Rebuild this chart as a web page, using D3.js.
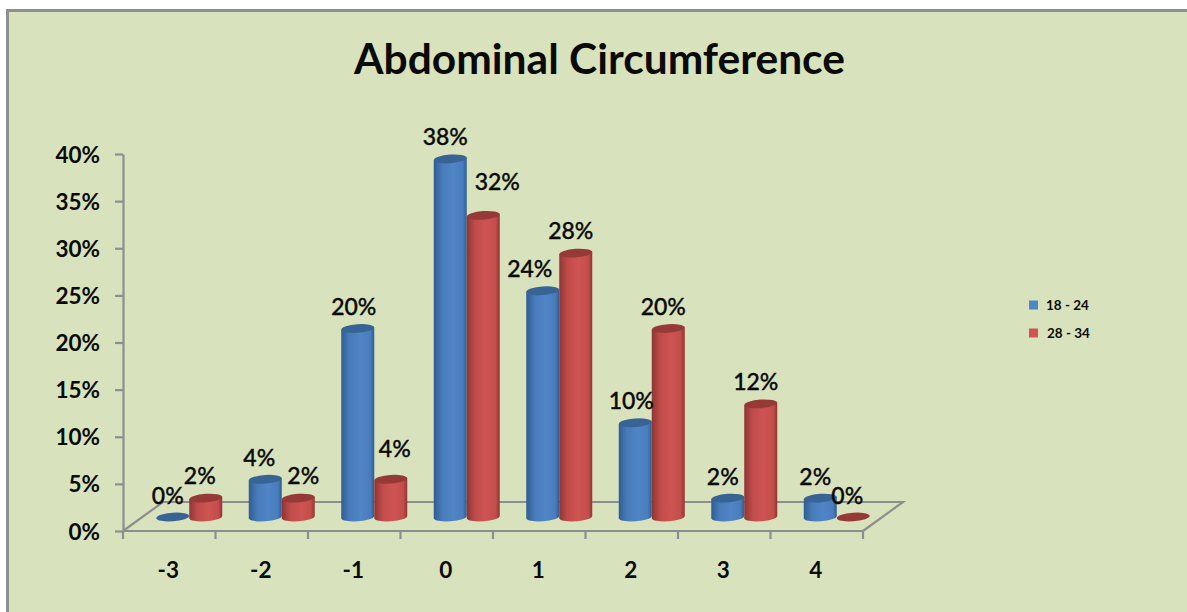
<!DOCTYPE html>
<html>
<head>
<meta charset="utf-8">
<script src="https://cdn.jsdelivr.net/npm/d3@7"></script>
<style>
  html, body { margin: 0; padding: 0; background: #fff; }
  svg { display: block; }
  text { font-family: Lato, "Open Sans", sans-serif; fill: #0a0a0a; }
</style>
</head>
<body>
<svg id="chart" width="1187" height="612"></svg>
<script>
// Abdominal circumference: share of each age group per score
const categories = ["-3", "-2", "-1", "0", "1", "2", "3", "4"];
const ageGroups = ["18 - 24", "28 - 34"];
const youngerShare = [0, 4, 20, 38, 24, 10, 2, 2];
const olderShare = [2, 2, 4, 32, 28, 20, 12, 0];
const yTicks = [0, 5, 10, 15, 20, 25, 30, 35, 40];
const seriesValues = [youngerShare, olderShare];

// Label placement relative to the top of each cylinder, one row per series
const labelShift = [
  [[-5, -14], [-6, -14], [-4, -14], [-5, -14], [-13, -14], [-4, -14], [-5, -14], [-5, -14]],
  [[-6, -15], [5, -15], [4, -23], [14, -26], [-5, -15], [-5, -14], [-5, -14], [-6, -14]]
];

const frame = { x: 7.5, y: 10.5 };
const plot = { left: 123, right: 863, top: 154, bottom: 531 };
const depth = { dx: 40, dy: 29, liftX: 20, liftY: 14 };
const barWidth = 33;
const ellipseRy = 4.3;
const tilt = -4;

const palette = [
  { edge: "#2f5d92", mid: "#5085c6", cap: "#376494" },
  { edge: "#8f3533", mid: "#cf5452", cap: "#963a38" }
];

const svg = d3.select("#chart");
const defs = svg.append("defs");
palette.forEach((c, i) => {
  const g = defs.append("linearGradient").attr("id", "cyl" + i);
  g.append("stop").attr("offset", "0%").attr("stop-color", c.edge);
  g.append("stop").attr("offset", "25%").attr("stop-color", d3.interpolateRgb(c.edge, c.mid)(0.75));
  g.append("stop").attr("offset", "58%").attr("stop-color", c.mid);
  g.append("stop").attr("offset", "88%").attr("stop-color", d3.interpolateRgb(c.edge, c.mid)(0.8));
  g.append("stop").attr("offset", "100%").attr("stop-color", c.edge);
});

// Panel
svg.append("rect")
  .attr("x", frame.x).attr("y", frame.y)
  .attr("width", 1187 - frame.x + 5).attr("height", 612 - frame.y + 5)
  .attr("fill", "#d8e3bd").attr("stroke", "#8f8f8f").attr("stroke-width", 3);

svg.append("text")
  .attr("x", 599.5).attr("y", 74)
  .attr("text-anchor", "middle")
  .attr("font-size", 42.5).attr("font-weight", 700)
  .text("Abdominal Circumference");

// Scales
const x = d3.scaleBand().domain(categories).range([plot.left, plot.right]);
const y = d3.scaleLinear().domain([0, 40]).range([plot.bottom, plot.top]);
const series = d3.scaleBand().domain(d3.range(2)).range([-barWidth, barWidth]);

// Floor drawn behind the cylinders
const axisColor = "#8e8e8e";
svg.append("path")
  .attr("d", d3.line()([
    [plot.left, plot.bottom],
    [plot.left + depth.dx, plot.bottom - depth.dy],
    [plot.right + depth.dx, plot.bottom - depth.dy],
    [plot.right, plot.bottom]
  ]))
  .attr("fill", "none").attr("stroke", axisColor).attr("stroke-width", 2.2);

// Axes
const yAxis = d3.axisLeft(y).tickValues(yTicks).tickSize(8).tickSizeOuter(0).tickFormat(d => d + "%");
const gy = svg.append("g").attr("transform", `translate(${plot.left},0)`).call(yAxis);
gy.selectAll("text").attr("x", -23).attr("dy", "0.36em").attr("font-size", 22.5).attr("font-weight", 700).attr("fill", "#0a0a0a");

const xEdges = d3.scaleLinear().domain([0, categories.length]).range([plot.left, plot.right]);
const gx = svg.append("g").attr("transform", `translate(0,${plot.bottom})`);
gx.append("path").attr("d", `M${plot.left},0H${plot.right}`);
gx.selectAll("line").data(d3.range(categories.length + 1)).join("line")
  .attr("x1", xEdges).attr("x2", xEdges).attr("y1", 0).attr("y2", 8);
gx.selectAll("text").data(categories).join("text")
  .attr("x", d => x(d) + x.bandwidth() / 2 - 1)
  .attr("y", 47)
  .attr("text-anchor", "middle")
  .attr("font-size", 22.5).attr("font-weight", 700)
  .text(d => d);
[gx, gy].forEach(g => {
  g.selectAll("path,line").attr("stroke", axisColor).attr("stroke-width", 2.2).attr("fill", "none");
});

// Cylinders
const barCenter = (cat, s) => x(cat) + x.bandwidth() / 2 + depth.liftX + series(s) + series.bandwidth() / 2;
const barTop = v => y(v) - depth.liftY;

const rows = [];
seriesValues.forEach((vals, s) => vals.forEach((v, i) => rows.push({ s, i, v, cat: categories[i] })));
// Each score's pair is painted left to right
rows.sort((a, b) => a.i - b.i || a.s - b.s);

const bars = svg.append("g").selectAll("g").data(rows).join("g")
  .attr("transform", d => `translate(${barCenter(d.cat, d.s)},0)`);

bars.filter(d => d.v > 0).append("path")
  .attr("fill", d => `url(#cyl${d.s})`)
  .attr("d", d => {
    const t = barTop(d.v), b = barTop(0), r = barWidth / 2;
    const skew = r * Math.tan(-tilt * Math.PI / 180);
    return `M${-r},${t + skew}L${-r},${b + skew}A${r},${ellipseRy} ${tilt} 0 0 ${r},${b - skew}L${r},${t - skew}Z`;
  });
bars.append("ellipse")
  .attr("rx", barWidth / 2).attr("ry", ellipseRy)
  .attr("transform", d => `translate(0,${barTop(d.v)}) rotate(${tilt})`)
  .attr("fill", d => palette[d.s].cap);

// Value labels
svg.append("g").selectAll("text").data(rows).join("text")
  .attr("x", d => barCenter(d.cat, d.s) + labelShift[d.s][d.i][0])
  .attr("y", d => barTop(d.v) + labelShift[d.s][d.i][1] + 0.5)
  .attr("text-anchor", "middle")
  .attr("font-size", 23).attr("font-weight", 500)
  .attr("stroke", "#0a0a0a").attr("stroke-width", 0.35)
  .text(d => d.v + "%");

// Legend
const legend = svg.append("g").selectAll("g").data(ageGroups).join("g")
  .attr("transform", (d, i) => `translate(1029,${305 + i * 28})`);
legend.append("rect").attr("y", -4.5).attr("width", 9).attr("height", 9)
  .attr("fill", (d, i) => palette[i].mid);
legend.append("text").attr("x", (d, i) => 17 + i)
  .attr("dy", "0.36em").attr("font-size", 13.5).attr("font-weight", 700).attr("fill", "#222")
  .text(d => d);
</script>
</body>
</html>
